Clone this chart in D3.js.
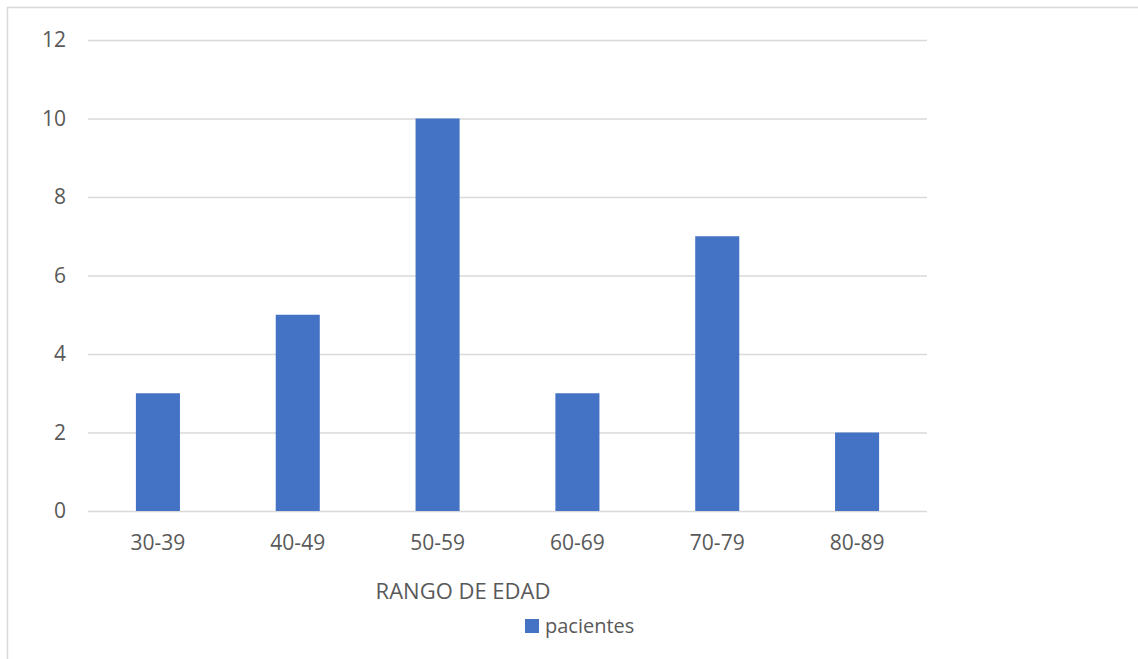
<!DOCTYPE html>
<html>
<head>
<meta charset="utf-8">
<script src="https://cdn.jsdelivr.net/npm/d3@7"></script>
<style>
  html, body { margin: 0; padding: 0; background: #fff; }
  svg { display: block; font-family: "Open Sans", "Noto Sans", sans-serif; }
</style>
</head>
<body>
<svg id="chart" width="1138" height="659"></svg>
<script>
// Patients per age range
const categories = ["30-39", "40-49", "50-59", "60-69", "70-79", "80-89"];
const pacientes = [3, 5, 10, 3, 7, 2];
const yTicks = [0, 2, 4, 6, 8, 10, 12];
const seriesName = "pacientes";
const xTitle = "RANGO DE EDAD";

const svg = d3.select("#chart");
const W = 1138, H = 659;
const plot = { left: 88, right: 927, top: 40, bottom: 511 };
const textColor = "#595959";
const gridColor = "#d9d9d9";
const barColor = "#4472c4";

// Outer frame (left and top edges fall inside the view)
svg.append("rect")
  .attr("x", 7.5).attr("y", 7.5)
  .attr("width", W + 20).attr("height", H + 20)
  .attr("fill", "#fff")
  .attr("stroke", "#d9d9d9").attr("stroke-width", 1.5);

const x = d3.scaleBand()
  .domain(categories)
  .range([plot.left, plot.right])
  .paddingInner(0.685)
  .paddingOuter(0.3425);

const y = d3.scaleLinear()
  .domain([0, 12])
  .range([plot.bottom, plot.top]);

// Horizontal gridlines + value labels
const yAxis = d3.axisLeft(y)
  .tickValues(yTicks)
  .tickSize(-(plot.right - plot.left))
  .tickPadding(22);

const gy = svg.append("g")
  .attr("transform", `translate(${plot.left},0)`)
  .call(yAxis);
gy.select(".domain").remove();
gy.selectAll(".tick line").attr("stroke", gridColor).attr("stroke-width", 1.5);
gy.selectAll(".tick text")
  .attr("fill", textColor)
  .attr("font-size", 21)
  .attr("font-family", "'Open Sans', sans-serif");

// Bars
svg.append("g")
  .selectAll("rect")
  .data(categories)
  .join("rect")
  .attr("x", d => x(d))
  .attr("width", x.bandwidth())
  .attr("y", (d, i) => y(pacientes[i]))
  .attr("height", (d, i) => y(0) - y(pacientes[i]))
  .attr("fill", barColor);

// Category axis labels
const xAxis = d3.axisBottom(x).tickSize(0).tickPadding(24);
const gx = svg.append("g")
  .attr("transform", `translate(0,${plot.bottom})`)
  .call(xAxis);
gx.select(".domain").remove();
gx.selectAll(".tick text")
  .attr("fill", textColor)
  .attr("font-size", 21)
  .attr("font-family", "'Open Sans', sans-serif");

// Axis title
svg.append("text")
  .attr("x", 463).attr("y", 599)
  .attr("text-anchor", "middle")
  .attr("fill", textColor)
  .attr("font-size", 22)
  .text(xTitle);

// Legend
const lg = svg.append("g").attr("transform", "translate(525,619)");
lg.append("rect").attr("width", 14).attr("height", 14).attr("fill", barColor);
lg.append("text")
  .attr("x", 20).attr("y", 14)
  .attr("fill", textColor)
  .attr("font-size", 20)
  .text(seriesName);
</script>
</body>
</html>
